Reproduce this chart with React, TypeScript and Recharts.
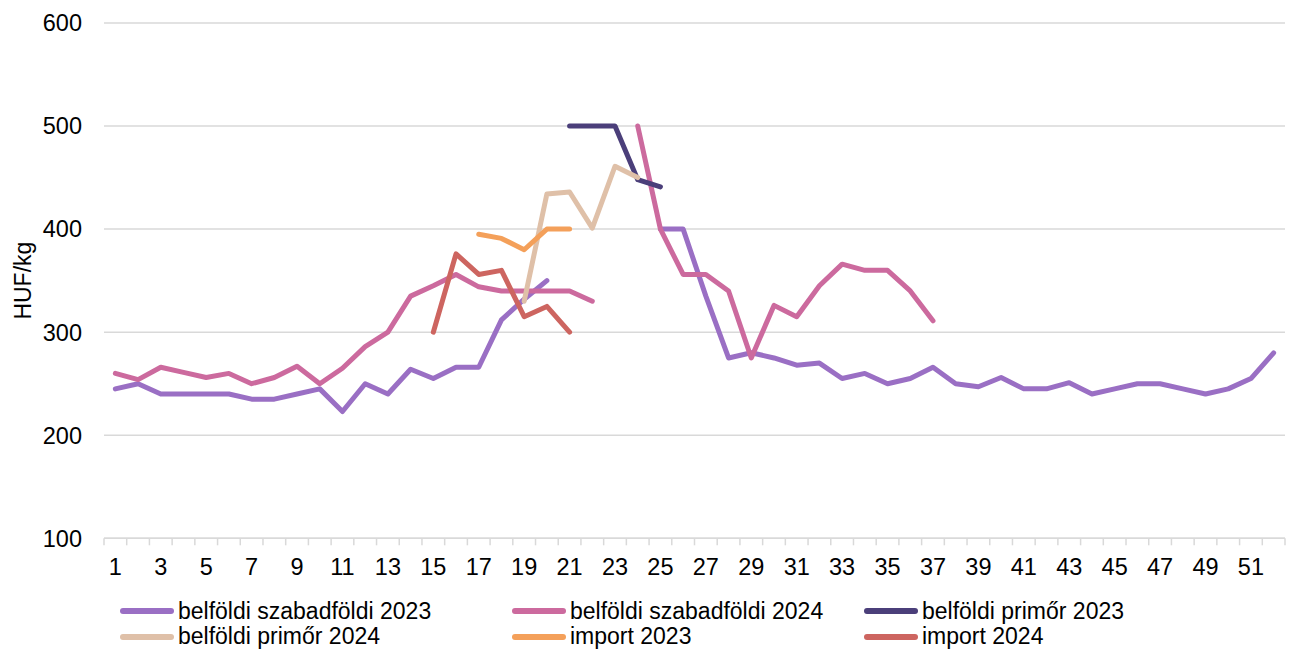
import React from 'react';
import { LineChart, Line, XAxis, YAxis, CartesianGrid } from 'recharts';

const weeks: number[] = Array.from({ length: 52 }, (_, i) => i + 1);

const szabad2023: (number | null)[] = [
  245, 250, 240, 240, 240, 240, 235, 235, 240, 245,
  223, 250, 240, 264, 255, 266, 266, 312, 332, 350,
  null, null, null, null, 400, 400, 335, 275, 280, 275,
  268, 270, 255, 260, 250, 255, 266, 250, 247, 256,
  245, 245, 251, 240, 245, 250, 250, 245, 240, 245,
  255, 280,
];

const szabad2024: (number | null)[] = [
  260, 254, 266, 261, 256, 260, 250, 256, 267, 250,
  265, 286, 300, 335, 345, 356, 344, 340, 340, 340,
  340, 330, null, 500, 400, 356, 356, 340, 275, 326,
  315, 345, 366, 360, 360, 340, 311,
];

const primor2023: Record<number, number> = { 21: 500, 22: 500, 23: 500, 24: 448, 25: 441 };
const primor2024: Record<number, number> = { 19: 330, 20: 434, 21: 436, 22: 401, 23: 461, 24: 450 };
const import2023: Record<number, number> = { 17: 395, 18: 391, 19: 380, 20: 400, 21: 400 };
const import2024: Record<number, number> = { 15: 300, 16: 376, 17: 356, 18: 360, 19: 315, 20: 325, 21: 300 };

const yTicks: number[] = [100, 200, 300, 400, 500, 600];
const xLabelWeeks: number[] = weeks.filter((w) => w % 2 === 1);

const series = [
  { key: 'sz23', name: 'belföldi szabadföldi 2023', color: '#9a6fc4' },
  { key: 'sz24', name: 'belföldi szabadföldi 2024', color: '#cc6a9e' },
  { key: 'pr23', name: 'belföldi primőr 2023', color: '#4b3f7a' },
  { key: 'pr24', name: 'belföldi primőr 2024', color: '#dfc0a8' },
  { key: 'im23', name: 'import 2023', color: '#f4a05a' },
  { key: 'im24', name: 'import 2024', color: '#cd6560' },
];

const data = weeks.map((w, i) => ({
  week: w,
  sz23: szabad2023[i] ?? null,
  sz24: szabad2024[i] ?? null,
  pr23: primor2023[w] ?? null,
  pr24: primor2024[w] ?? null,
  im23: import2023[w] ?? null,
  im24: import2024[w] ?? null,
}));

const boundaryTicks: number[] = [0.5, ...weeks.map((w) => w + 0.5)];

const FONT = '"Liberation Sans", Arial, sans-serif';
const TICK_FS = 23.5;
const W = 1291;
const MARGIN = { top: 23, right: 6, left: 0, bottom: 0 };
const Y_W = 104;
const HALF_BAND = (W - MARGIN.left - MARGIN.right - Y_W) / weeks.length / 2;

const XTick = (props: any) => {
  const { x, y, payload } = props;
  const w = payload.value + 0.5;
  if (!xLabelWeeks.includes(w)) return <g />;
  return (
    <text x={x + HALF_BAND} y={y} dy="0.71em" textAnchor="middle" fill="#000" fontSize={TICK_FS} fontFamily={FONT}>
      {w}
    </text>
  );
};

const YLabel = (props: any) => {
  const vb = props.viewBox || { x: 0, y: 23, width: 104, height: 515 };
  const cx = vb.x + 23;
  const cy = vb.y + vb.height / 2;
  return (
    <text x={cx} y={cy} transform={`rotate(-90 ${cx} ${cy})`} textAnchor="middle" dominantBaseline="central" fill="#000" fontSize={23} fontFamily={FONT}>
      HUF/kg
    </text>
  );
};

const legendCols = [120, 512, 864];
const LEG_FS = 23;
const LEG_ROW = 25.8;

export default function App() {
  return (
    <div style={{ position: 'absolute', left: 0, top: 0, width: W, height: 650, background: '#fff', fontFamily: FONT }}>
      <LineChart width={W} height={596} data={data} margin={MARGIN}>
        <CartesianGrid horizontal vertical={false} stroke="#d9d9d9" strokeWidth={1.5} />
        <XAxis
          dataKey="week"
          type="number"
          domain={[0.5, 52.5]}
          ticks={boundaryTicks}
          interval={0}
          height={57.7}
          tick={<XTick />}
          tickSize={7}
          tickMargin={13}
          tickLine={{ stroke: '#d9d9d9', strokeWidth: 1.5 }}
          axisLine={{ stroke: '#d9d9d9', strokeWidth: 1.5 }}
          allowDecimals
        />
        <YAxis
          domain={[100, 600]}
          ticks={yTicks}
          width={Y_W}
          axisLine={false}
          tickLine={false}
          tickSize={6}
          tickMargin={16}
          tick={{ fill: '#000', fontSize: TICK_FS, fontFamily: FONT }}
          label={<YLabel />}
        />
        {series.map((s) => (
          <Line
            key={s.key}
            dataKey={s.key}
            name={s.name}
            stroke={s.color}
            strokeWidth={5}
            strokeLinecap="round"
            strokeLinejoin="round"
            dot={false}
            activeDot={false}
            connectNulls={false}
            isAnimationActive={false}
            type="linear"
          />
        ))}
      </LineChart>
      {series.map((s, i) => {
        const col = i % 3;
        const row = Math.floor(i / 3);
        return (
          <div
            key={s.key}
            style={{
              position: 'absolute',
              left: legendCols[col],
              top: 598.5 + row * LEG_ROW,
              height: LEG_ROW,
              lineHeight: `${LEG_ROW}px`,
              display: 'flex',
              alignItems: 'center',
              whiteSpace: 'nowrap',
              fontSize: LEG_FS,
              color: '#000',
            }}
          >
            <span style={{ display: 'inline-block', width: 54, height: 6, borderRadius: 3, background: s.color, marginRight: 4 }} />
            <span style={{ display: 'inline-block', height: LEG_ROW, lineHeight: `${LEG_ROW}px` }}>{s.name}</span>
          </div>
        );
      })}
    </div>
  );
}
